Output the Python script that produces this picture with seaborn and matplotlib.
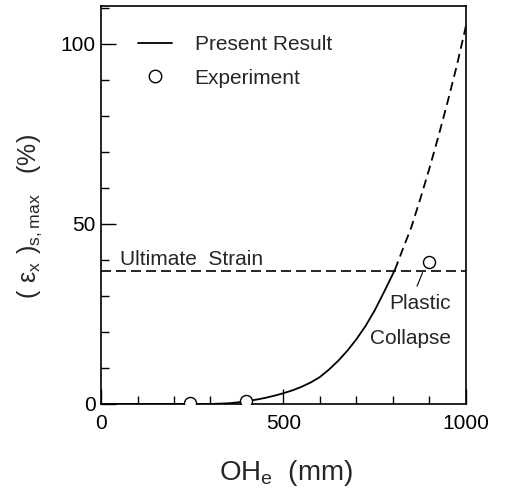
import matplotlib
matplotlib.use('Agg')
import matplotlib.pyplot as plt
import seaborn as sns
from matplotlib.lines import Line2D
from matplotlib.ticker import MultipleLocator, FixedLocator

# ---- data ----
oh_solid = [0, 300, 350, 375, 400, 425, 450, 475, 500, 525, 550, 575, 600,
            625, 650, 675, 700, 725, 750, 775, 805]
strain_solid = [0, 0, 0.2, 0.45, 0.8, 1.2, 1.7, 2.3, 3.0, 3.8, 4.8, 6.0, 7.5,
                9.6, 12.0, 14.8, 18.0, 21.7, 26.0, 31.0, 37.2]
oh_dashed = [805, 825, 850, 875, 900, 925, 950, 975, 1000]
strain_dashed = [37.2, 42.5, 49, 57, 65.5, 74.5, 84, 94, 105]
oh_exp = [245, 397, 900]
strain_exp = [0.3, 0.8, 39.5]
ultimate_strain = 37
x_ticks = [0, 500, 1000]
y_ticks = [0, 50, 100]
legend_labels = ['Present Result', 'Experiment']

sns.set_style('ticks')
plt.rcParams['font.family'] = ['Liberation Sans', 'DejaVu Sans']
plt.rcParams['mathtext.default'] = 'regular'

fig = plt.figure(figsize=(5.14, 4.96), dpi=100)
ax = fig.add_axes([0.1965, 0.1855, 0.7101, 0.8025])

sns.lineplot(x=oh_solid, y=strain_solid, ax=ax, color='black', lw=1.3)
sns.lineplot(x=oh_dashed, y=strain_dashed, ax=ax, color='black', lw=1.3,
             linestyle=(0, (5, 3)))
ax.axhline(ultimate_strain, color='black', lw=1.2, linestyle=(0, (6, 3)))
sns.scatterplot(x=oh_exp, y=strain_exp, ax=ax, marker='o', s=75,
                facecolor='white', edgecolor='black', linewidth=1.0, zorder=5)

ax.set_xlim(0, 1000)
ax.set_ylim(0, 110.5)
ax.xaxis.set_major_locator(FixedLocator(x_ticks))
ax.yaxis.set_major_locator(FixedLocator(y_ticks))
ax.xaxis.set_minor_locator(MultipleLocator(100))
ax.yaxis.set_minor_locator(MultipleLocator(10))
ax.tick_params(which='both', direction='in', top=False, right=False,
               colors='black', width=1.0)
ax.tick_params(which='major', length=11, labelsize=15)
ax.tick_params(which='minor', length=6)
ax.tick_params(axis='x', pad=7)
ax.tick_params(axis='y', pad=4)
for sp in ax.spines.values():
    sp.set_visible(True)
    sp.set_linewidth(1.2)
    sp.set_color('black')

ax.text(52, 40, 'Ultimate  Strain', va='center', ha='left', fontsize=15)
ax.text(874, 28, 'Plastic', va='center', ha='center', fontsize=15)
ax.text(847, 18.3, 'Collapse', va='center', ha='center', fontsize=15)
ax.annotate('', xy=(884, 37.2), xytext=(863, 32),
            arrowprops=dict(arrowstyle='-', lw=0.8, color='black'))

handles = [Line2D([], [], color='black', lw=1.3),
           Line2D([], [], marker='o', ls='none', mfc='white', mec='black', ms=9)]
ax.legend(handles, legend_labels, loc='upper left', bbox_to_anchor=(0.101, 0.927),
          frameon=False, fontsize=15, handlelength=1.63, handletextpad=1.1,
          labelspacing=0.7, borderaxespad=0, borderpad=0)

ax.set_xlabel(r'OH$_e$  (mm)', fontsize=20)
ax.set_ylabel(r'$(\ \varepsilon_x\ )_{s,max}$   (%)', fontsize=18)
ax.xaxis.set_label_coords(0.507, -0.136)
ax.yaxis.set_label_coords(-0.157, 0.47)

fig.savefig('out.png', dpi=100)
